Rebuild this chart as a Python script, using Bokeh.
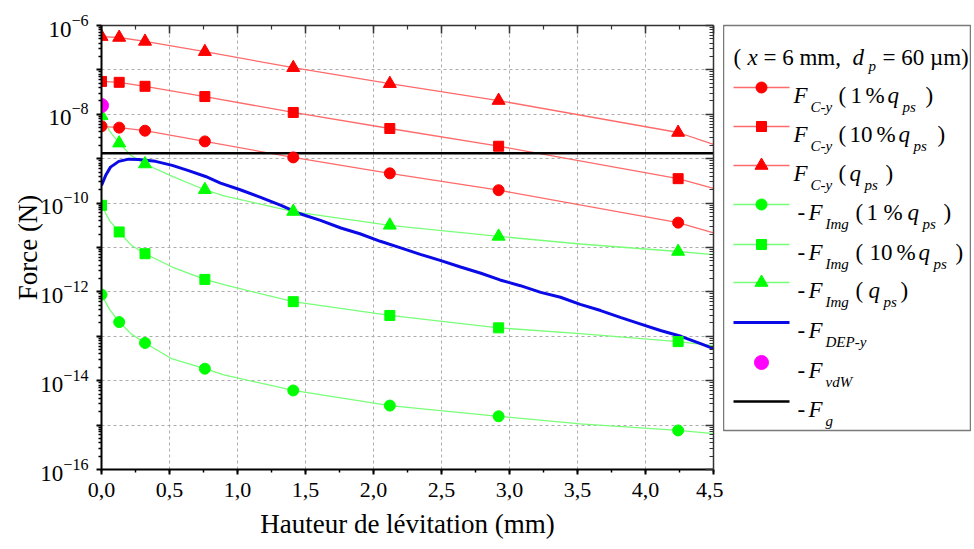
from bokeh.plotting import figure
from bokeh.models import (Range1d, LogAxis, LinearAxis, FixedTicker, SingleIntervalTicker,
                          CustomJSTickFormatter, Label)
from bokeh.layouts import row
from bokeh.embed import file_html
from bokeh.resources import INLINE

# ---------------- data ----------------
# marker abscissae (mm)
x_mark = [0.0, 0.13, 0.32, 0.76, 1.41, 2.12, 2.92, 4.24]

# Coulomb force F_C-y  (lines run to 4.5 mm)
x_red_line = [0.0, 0.13, 0.32, 0.76, 1.41, 2.12, 2.92, 4.24, 4.5]
fcy_1pct = [5.37e-9, 5.01e-9, 4.27e-9, 2.45e-9, 1.07e-9, 4.68e-10, 1.95e-10, 3.63e-11, 2.14e-11]
fcy_10pct = [5.50e-8, 5.25e-8, 4.27e-8, 2.51e-8, 1.10e-8, 4.79e-9, 1.91e-9, 3.55e-10, 2.14e-10]
fcy_qps = [5.62e-7, 5.37e-7, 4.37e-7, 2.57e-7, 1.12e-7, 4.90e-8, 2.04e-8, 3.89e-9, 2.09e-9]

# Image force -F_Img : markers
img_1pct_pts = [8.71e-13, 2.09e-13, 7.08e-14, 1.86e-14, 6.03e-15, 2.75e-15, 1.58e-15, 7.59e-16]
img_10pct_pts = [8.91e-11, 2.24e-11, 7.24e-12, 1.91e-12, 6.03e-13, 2.95e-13, 1.55e-13, 7.59e-14]
img_qps_pts = [9.33e-9, 2.24e-9, 7.59e-10, 2.00e-10, 6.46e-11, 3.16e-11, 1.78e-11, 8.13e-12]

# Image force curves
x_green_line = [0.0, 0.06, 0.13, 0.22, 0.32, 0.52, 0.76, 0.9, 1.41, 2.12, 2.92, 3.52, 4.24, 4.5]
img_1pct_line = [8.71e-13, 3.98e-13, 2.09e-13, 1.12e-13, 7.08e-14, 3.09e-14, 1.86e-14, 1.35e-14,
                 6.03e-15, 2.75e-15, 1.58e-15, 1.07e-15, 7.59e-16, 6.46e-16]
img_10pct_line = [8.91e-11, 3.98e-11, 2.24e-11, 1.12e-11, 7.24e-12, 3.63e-12, 1.91e-12, 1.45e-12,
                  6.03e-13, 2.95e-13, 1.55e-13, 1.15e-13, 7.59e-14, 6.17e-14]
img_qps_line = [9.33e-9, 4.17e-9, 2.24e-9, 1.17e-9, 7.59e-10, 3.98e-10, 2.00e-10, 1.45e-10,
                6.46e-11, 3.16e-11, 1.78e-11, 1.20e-11, 8.13e-12, 6.92e-12]

# Dielectrophoretic force -F_DEP-y
x_dep = [0.0, 0.03, 0.066, 0.127, 0.2, 0.274, 0.397, 0.52, 0.64, 0.765, 0.875, 1.02, 1.17, 1.32,
         1.46, 1.61, 1.76, 1.90, 2.05, 2.20, 2.35, 2.49, 2.64, 2.79, 2.93, 3.08, 3.23, 3.375,
         3.52, 3.67, 3.82, 3.96, 4.11, 4.26, 4.40, 4.5]
f_dep = [2.51e-10, 4.17e-10, 6.46e-10, 8.71e-10, 9.77e-10, 9.55e-10, 8.71e-10, 7.08e-10, 5.37e-10,
         3.98e-10, 2.82e-10, 2.00e-10, 1.35e-10, 8.91e-11, 5.75e-11, 4.07e-11, 2.75e-11, 2.04e-11,
         1.38e-11, 9.77e-12, 6.92e-12, 5.13e-12, 3.63e-12, 2.63e-12, 1.86e-12, 1.38e-12, 9.77e-13,
         7.59e-13, 5.25e-13, 3.80e-13, 2.63e-13, 1.91e-13, 1.35e-13, 1.00e-13, 6.92e-14, 5.25e-14]

# van der Waals force (single point) and weight
x_vdw = [0.0]
f_vdw = [1.58e-8]
x_g = [0.0, 4.5]
f_g = [1.33e-9, 1.33e-9]

# axis ticks
decades = [1e-16, 1e-15, 1e-14, 1e-13, 1e-12, 1e-11, 1e-10, 1e-9, 1e-8, 1e-7, 1e-6]
unlabeled_decades = [1e-15, 1e-13, 1e-11, 1e-9, 1e-7]
minor_y = [float(f"{k}e{e}") for e in range(-16, -6) for k in range(2, 10)]

# ---------------- styles ----------------
FONT = "Liberation Serif"
RED = "#ff0000"
RED_L = "#ff6a6a"
GREEN = "#00ff00"
GREEN_L = "#78ff78"
BLUE = "#0a0ae6"
MAGENTA = "#ff00ff"

p = figure(frame_width=612, frame_height=444, min_border_left=101, min_border_right=10,
           min_border_top=25, min_border_bottom=78, x_range=Range1d(0, 4.5),
           y_range=Range1d(1e-16, 1e-6), y_axis_type="log", output_backend="svg",
           toolbar_location=None, background_fill_color="white", border_fill_color="white")
p.outline_line_color = None

yt = FixedTicker(ticks=decades, minor_ticks=minor_y)
xt = SingleIntervalTicker(interval=0.5, num_minor_ticks=2)

xa = p.xaxis[0]
ya = p.yaxis[0]
xa.ticker = xt
ya.ticker = yt
p.xgrid[0].ticker = xt
p.ygrid[0].ticker = yt
xa.formatter = CustomJSTickFormatter(code="return tick.toFixed(1).replace('.', ',');")
ya.major_label_overrides = {d: "" for d in unlabeled_decades}
xa.axis_label = "Hauteur de lévitation (mm)"
ya.axis_label = "Force (N)"

for ax in (xa, ya):
    ax.axis_line_width = 2
    ax.axis_line_color = "black"
    ax.major_tick_line_width = 2
    ax.minor_tick_line_width = 1.5
    ax.major_tick_line_color = "black"
    ax.minor_tick_line_color = "black"
    ax.major_tick_out = 5
    ax.major_tick_in = 0
    ax.minor_tick_out = 3
    ax.minor_tick_in = 0
    ax.major_label_text_font = FONT
    ax.major_label_text_font_size = "22px"
    ax.major_label_text_color = "black"
    ax.axis_label_text_font = FONT
    ax.axis_label_text_font_size = "27px"
    ax.axis_label_text_font_style = "normal"
    ax.axis_label_text_color = "black"
ya.major_label_text_font_size = "23px"
ya.major_label_standoff = 8
ya.axis_label_standoff = -6
xa.major_label_standoff = 8
xa.axis_label_standoff = 9

blank = CustomJSTickFormatter(code="return '';")
ra = LogAxis(ticker=yt, formatter=blank)
ta = LinearAxis(ticker=xt, formatter=blank)
for ax in (ra, ta):
    ax.axis_line_width = 1.5
    ax.axis_line_color = "#333333"
    ax.major_tick_in = 8
    ax.major_tick_out = 0
    ax.minor_tick_in = 4
    ax.minor_tick_out = 0
    ax.major_tick_line_width = 1.5
    ax.minor_tick_line_width = 1.2
    ax.major_tick_line_color = "#333333"
    ax.minor_tick_line_color = "#333333"
    ax.major_label_text_font_size = "1px"
    ax.major_label_standoff = 0
p.add_layout(ra, "right")
p.add_layout(ta, "above")

for g in (p.xgrid[0], p.ygrid[0]):
    g.grid_line_color = "#acacac"
    g.grid_line_dash = "3 3"
    g.grid_line_width = 1

# curves
p.line(x_green_line, img_1pct_line, line_color=GREEN_L, line_width=1.3)
p.line(x_green_line, img_10pct_line, line_color=GREEN_L, line_width=1.3)
p.line(x_green_line, img_qps_line, line_color=GREEN_L, line_width=1.3)
p.line(x_red_line, fcy_1pct, line_color=RED_L, line_width=1.3)
p.line(x_red_line, fcy_10pct, line_color=RED_L, line_width=1.3)
p.line(x_red_line, fcy_qps, line_color=RED_L, line_width=1.3)
p.line(x_dep, f_dep, line_color=BLUE, line_width=3)
p.line(x_g, f_g, line_color="black", line_width=2.5)

# markers
n = len(x_mark)
p.scatter(x_mark, fcy_1pct[:n], marker="circle", size=11, fill_color=RED, line_color=RED)
p.scatter(x_mark, fcy_10pct[:n], marker="square", size=10, fill_color=RED, line_color=RED)
p.scatter(x_mark, fcy_qps[:n], marker="triangle", size=13, fill_color=RED, line_color=RED)
p.scatter(x_mark, img_1pct_pts, marker="circle", size=11, fill_color=GREEN, line_color=GREEN)
p.scatter(x_mark, img_10pct_pts, marker="square", size=10, fill_color=GREEN, line_color=GREEN)
p.scatter(x_mark, img_qps_pts, marker="triangle", size=13, fill_color=GREEN, line_color=GREEN)
p.scatter(x_vdw, f_vdw, marker="circle", size=14, fill_color=MAGENTA, line_color=MAGENTA)

# ---------------- legend panel ----------------
lg = figure(frame_width=247, frame_height=405, min_border_left=0, min_border_right=1,
            min_border_top=24, min_border_bottom=118, x_range=Range1d(723, 970),
            y_range=Range1d(429, 24), x_axis_location=None, y_axis_location=None,
            output_backend="svg", toolbar_location=None, border_fill_color="white")
lg.grid.visible = False
lg.outline_line_color = "#7a7a7a"
lg.outline_line_width = 1.5

MAIN = "23px"
SUB = "15px"


def lab(x, y, text, style="normal", size=MAIN):
    lg.add_layout(Label(x=x, y=y, text=text, text_font=FONT, text_font_style=style,
                        text_font_size=size, text_baseline="alphabetic", text_align="left",
                        text_color="black"))


# title
lab(733, 56, "(")
lab(747, 56, "x", "italic")
lab(763, 56, "= 6 mm,")
lab(852, 56, "d", "italic")
lab(868, 64, "p", "italic", SUB)
lab(882, 56, "= 60 µm)")

rows_y = [86, 125, 164, 203, 243, 281, 321, 361, 400]
SX0, SX1, SXM = 733, 789, 761

entries = [
    # (line color, line width, marker, marker color, pieces)
    (RED_L, 1.3, "circle", RED, [(793, "F", "italic", 0), (810, "C-y", "italic", 1), (838, "(", "normal", 0),
                                 (850, "1", "normal", 0), (865, "%", "normal", 0), (887, "q", "italic", 0),
                                 (902, "ps", "italic", 1), (925, ")", "normal", 0)]),
    (RED_L, 1.3, "square", RED, [(793, "F", "italic", 0), (810, "C-y", "italic", 1), (838, "(", "normal", 0),
                                 (849, "10", "normal", 0), (876, "%", "normal", 0), (898, "q", "italic", 0),
                                 (913, "ps", "italic", 1), (937, ")", "normal", 0)]),
    (RED_L, 1.3, "triangle", RED, [(793, "F", "italic", 0), (810, "C-y", "italic", 1), (838, "(", "normal", 0),
                                   (849, "q", "italic", 0), (864, "ps", "italic", 1), (885, ")", "normal", 0)]),
    (GREEN_L, 1.3, "circle", GREEN, [(797, "-", "normal", 0), (808, "F", "italic", 0), (825, "Img", "italic", 1),
                                     (855, "(", "normal", 0), (866, "1", "normal", 0), (883, "%", "normal", 0),
                                     (907, "q", "italic", 0), (922, "ps", "italic", 1), (943, ")", "normal", 0)]),
    (GREEN_L, 1.3, "square", GREEN, [(797, "-", "normal", 0), (808, "F", "italic", 0), (825, "Img", "italic", 1),
                                     (855, "(", "normal", 0), (869, "10", "normal", 0), (896, "%", "normal", 0),
                                     (918, "q", "italic", 0), (933, "ps", "italic", 1), (955, ")", "normal", 0)]),
    (GREEN_L, 1.3, "triangle", GREEN, [(797, "-", "normal", 0), (808, "F", "italic", 0), (825, "Img", "italic", 1),
                                       (855, "(", "normal", 0), (868, "q", "italic", 0), (883, "ps", "italic", 1),
                                       (900, ")", "normal", 0)]),
    (BLUE, 3, None, None, [(797, "-", "normal", 0), (808, "F", "italic", 0), (825, "DEP-y", "italic", 1)]),
    (None, 0, "circle", MAGENTA, [(797, "-", "normal", 0), (808, "F", "italic", 0), (825, "vdW", "italic", 1)]),
    ("black", 2.5, None, None, [(797, "-", "normal", 0), (808, "F", "italic", 0), (825, "g", "italic", 1)]),
]

marker_sizes = {"circle": 11, "square": 10, "triangle": 13}
for ry, (lc, lw, mk, mc, pieces) in zip(rows_y, entries):
    if lc is not None:
        lg.line([SX0, SX1], [ry, ry], line_color=lc, line_width=lw)
    if mk is not None:
        sz = 14 if mc == MAGENTA else marker_sizes[mk]
        lg.scatter([SXM], [ry], marker=mk, size=sz, fill_color=mc, line_color=mc)
    for (px, txt, style, is_sub) in pieces:
        if is_sub:
            lab(px, ry + 19, txt, style, SUB)
        else:
            lab(px, ry + 8, txt, style, MAIN)

layout = row(p, lg)
open("out.html", "w").write(file_html(layout, INLINE))
